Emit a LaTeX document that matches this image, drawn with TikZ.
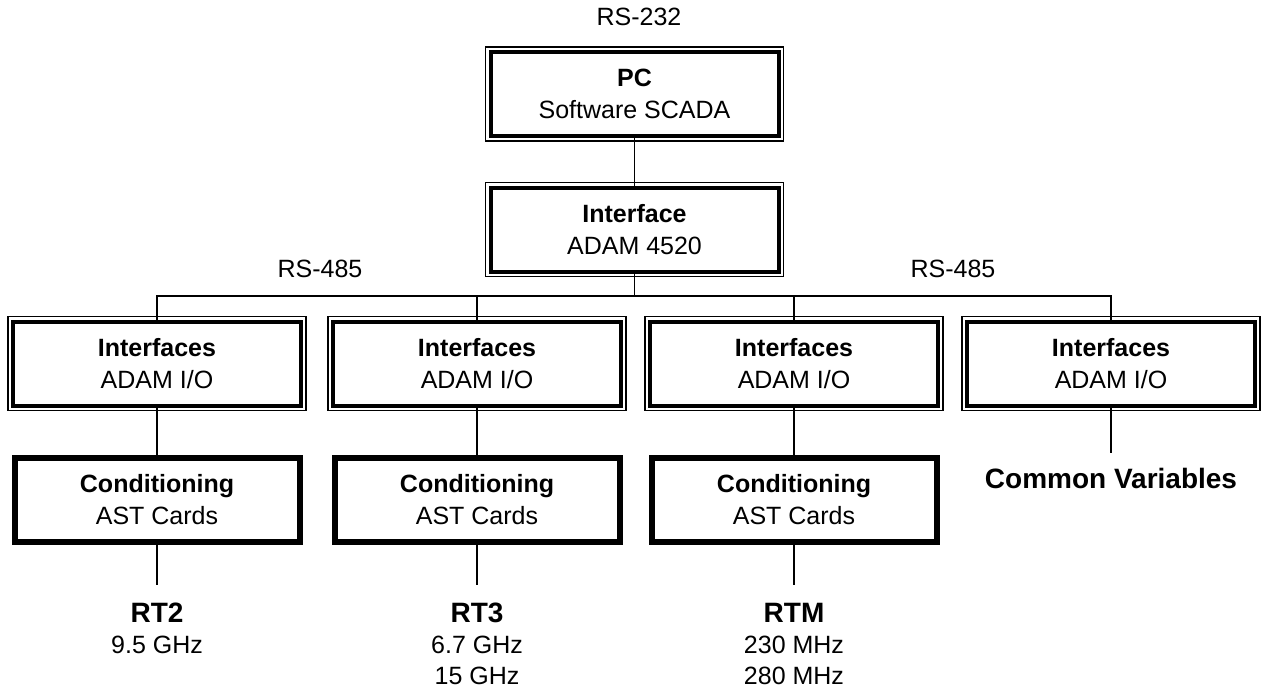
\documentclass[tikz,border=0pt]{standalone}
\usepackage{fontspec}
\setmainfont{Liberation Sans}
\usepackage{tikz}

\tikzset{
  ifbox/.style={draw, line width=2pt, outer sep=0pt, inner sep=0pt,
    minimum width=144pt, minimum height=42pt, align=center,
    font=\fontsize{12.5}{16}\selectfont},
  condbox/.style={draw, line width=3pt, outer sep=0pt, inner sep=0pt,
    minimum width=142.5pt, minimum height=42pt, align=center,
    font=\fontsize{12.5}{16}\selectfont},
  etiq/.style={font=\fontsize{12.5}{15.5}\selectfont, align=center},
  enlace/.style={line width=0.6pt}
}
\newcommand{\rtname}[1]{{\fontsize{14}{16}\selectfont\bfseries #1}}

\begin{document}
\begin{tikzpicture}[x=0.5pt,y=-0.5pt]
  \useasboundingbox (0,0) rectangle (1261,690);

  % Nivel superior
  \node[etiq] (rs232) at (639,17) {RS-232};
  \node[ifbox] (pc) at (634.5,94) {\textbf{PC}\\Software SCADA};
  \node[ifbox] (adam) at (634.5,229.5) {\textbf{Interface}\\ADAM 4520};
  \node[etiq] (rs485a) at (320,269) {RS-485};
  \node[etiq] (rs485b) at (953,269) {RS-485};

  % Interfaces de E/S
  \node[ifbox] (io1) at (157,363.5) {\textbf{Interfaces}\\ADAM I/O};
  \node[ifbox] (io2) at (477,363.5) {\textbf{Interfaces}\\ADAM I/O};
  \node[ifbox] (io3) at (794,363.5) {\textbf{Interfaces}\\ADAM I/O};
  \node[ifbox] (io4) at (1111,363.5) {\textbf{Interfaces}\\ADAM I/O};

  % Marco exterior fino
  \foreach \n in {pc,adam,io1,io2,io3,io4}
    \draw[line width=0.6pt] ([shift={(-2.5pt,2.5pt)}]\n.north west)
      rectangle ([shift={(2.5pt,-2.5pt)}]\n.south east);

  % Acondicionamiento
  \node[condbox] (c1) at (157,500) {\textbf{Conditioning}\\AST Cards};
  \node[condbox] (c2) at (477,500) {\textbf{Conditioning}\\AST Cards};
  \node[condbox] (c3) at (794,500) {\textbf{Conditioning}\\AST Cards};

  % Radiotelescopios
  \node[etiq, anchor=north, inner ysep=9pt] (rt2) at (157,585) {\rtname{RT2}\\9.5 GHz};
  \node[etiq, anchor=north, inner ysep=9pt] (rt3) at (477,585) {\rtname{RT3}\\6.7 GHz\\15 GHz};
  \node[etiq, anchor=north, inner ysep=9pt] (rtm) at (794,585) {\rtname{RTM}\\230 MHz\\280 MHz};
  \node[anchor=north, inner ysep=7.5pt, font=\fontsize{14}{16}\selectfont\bfseries]
    (comun) at (1111,453) {Common Variables};

  % Bus RS-485
  \coordinate (busL) at (157,296);
  \coordinate (busR) at (1111,296);
  \draw[enlace] (pc.south) -- (adam.north);
  \draw[enlace] (adam.south) -- (adam.south |- busL);
  \draw[enlace] (io1.north) -- (busL) -- (busR) -- (io4.north);
  \draw[enlace] (io2.north) -- (io2.north |- busL);
  \draw[enlace] (io3.north) -- (io3.north |- busL);

  % Conexiones verticales
  \draw[enlace] (io1.south) -- (c1.north);
  \draw[enlace] (io2.south) -- (c2.north);
  \draw[enlace] (io3.south) -- (c3.north);
  \draw[enlace] (io4.south) -- (comun.north);
  \draw[enlace] (c1.south) -- (rt2.north);
  \draw[enlace] (c2.south) -- (rt3.north);
  \draw[enlace] (c3.south) -- (rtm.north);
\end{tikzpicture}
\end{document}
